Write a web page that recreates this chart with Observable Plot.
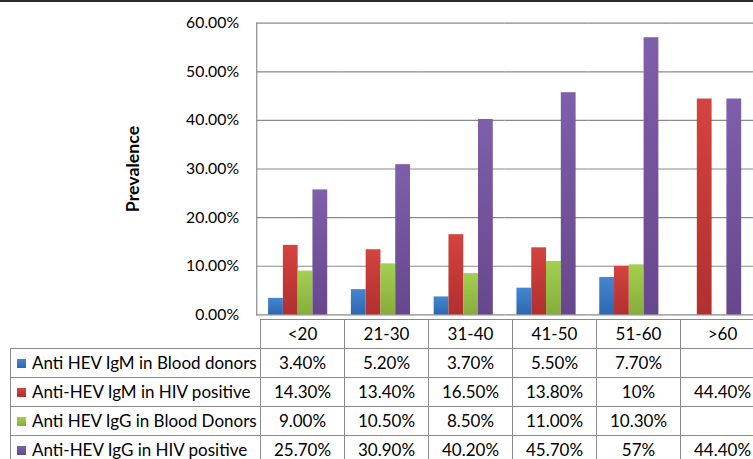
<!DOCTYPE html>
<html><head><meta charset="utf-8">
<script src="https://cdn.jsdelivr.net/npm/d3@7"></script>
<script src="https://cdn.jsdelivr.net/npm/@observablehq/plot@0.6"></script>
<style>
html,body{margin:0;padding:0;background:#fff;overflow:hidden;width:753px;height:459px}
body{position:relative;font-family:Lato,sans-serif;color:#000}
#topline{position:absolute;left:0;top:0;width:753px;height:2px;background:#2b2b2b}
#chart{position:absolute;left:0;top:0}
#tbl{position:absolute;left:10px;top:319px;border-collapse:collapse;table-layout:fixed;font-size:17px;font-family:Lato,sans-serif}
#tbl td{border:1px solid #8a8a8a;height:28px;padding:0;text-align:center;white-space:nowrap;overflow:hidden;line-height:28px}
#tbl td.lab{text-align:left;padding-left:6px}
#tbl td.blank{border-top:none;border-left:none}
.key{display:inline-block;width:9px;height:9px;margin-right:6px;vertical-align:middle;position:relative;top:-1px}
</style></head><body>
<div id="chart"></div>
<table id="tbl"></table>
<div id="topline"></div>
<script>
const categories = ["<20", "21-30", "31-40", "41-50", "51-60", ">60"];
const series = [
  "Anti HEV IgM in Blood donors",
  "Anti-HEV IgM in HIV positive",
  "Anti HEV IgG in Blood Donors",
  "Anti-HEV IgG in HIV positive"
];
const igmDonors = [3.4, 5.2, 3.7, 5.5, 7.7, null];
const igmHiv    = [14.3, 13.4, 16.5, 13.8, 10, 44.4];
const iggDonors = [9.0, 10.5, 8.5, 11.0, 10.3, null];
const iggHiv    = [25.7, 30.9, 40.2, 45.7, 57, 44.4];
const igmDonorsText = ["3.40%", "5.20%", "3.70%", "5.50%", "7.70%", ""];
const igmHivText    = ["14.30%", "13.40%", "16.50%", "13.80%", "10%", "44.40%"];
const iggDonorsText = ["9.00%", "10.50%", "8.50%", "11.00%", "10.30%", ""];
const iggHivText    = ["25.70%", "30.90%", "40.20%", "45.70%", "57%", "44.40%"];
const yTicks = [0, 10, 20, 30, 40, 50, 60];
const yLabel = "Prevalence";

const values = [igmDonors, igmHiv, iggDonors, iggHiv];
const texts = [igmDonorsText, igmHivText, iggDonorsText, iggHivText];
const gradColors = [["#4586d2", "#2d68b0"], ["#d4433f", "#b1302e"], ["#a3d050", "#86ad3a"], ["#7f5eab", "#67478c"]];

const rows = [];
series.forEach((s, i) => categories.forEach((c, j) => {
  const v = values[i][j];
  if (v != null) rows.push({series: s, cat: c, value: v});
}));

const chart = Plot.plot({
  width: 764, height: 320,
  marginLeft: 260, marginRight: 0, marginTop: 23, marginBottom: 1,
  style: {fontFamily: "Lato, sans-serif", fontSize: "16px", background: "transparent", overflow: "visible", color: "#000"},
  fx: {domain: categories, padding: 0, axis: null},
  x: {domain: series, paddingInner: 0, paddingOuter: 0.75, axis: null},
  y: {domain: [0, 60], axis: null},
  color: {domain: series, range: series.map((s, i) => `url(#grad${i})`)},
  marks: [
    Plot.gridY(yTicks, {stroke: "#8a8a8a", strokeOpacity: 1, strokeWidth: 1.2}),
    Plot.frame({anchor: "left", facetAnchor: "left", stroke: "#8a8a8a", strokeWidth: 1.2}),
    Plot.barY(rows, {fx: "cat", x: "series", y: "value", fill: "series"}),
    Plot.axisY({ticks: yTicks, tickFormat: d => d.toFixed(2) + "%", tickSize: 0, tickPadding: 18,
      fontSize: 16, label: yLabel, labelAnchor: "center", labelOffset: 132, labelArrow: "none"})
  ]
});

const svg = d3.select(chart);
const defs = svg.insert("defs", ":first-child");
gradColors.forEach(([top, bottom], i) => {
  const g = defs.append("linearGradient").attr("id", "grad" + i)
    .attr("x1", 0).attr("y1", 0).attr("x2", 0).attr("y2", 1);
  g.append("stop").attr("offset", "0%").attr("stop-color", top);
  g.append("stop").attr("offset", "100%").attr("stop-color", bottom);
});
svg.selectAll('[aria-label="y-axis label"] text').attr("font-weight", "bold").attr("font-size", 18);
document.getElementById("chart").appendChild(chart);

// data table aligned to the fx scale
const fx = chart.scale("fx");
const step = fx.step || 84;
const tbl = d3.select("#tbl");
const cg = tbl.append("colgroup");
cg.append("col").style("width", "250px");
categories.forEach(() => cg.append("col").style("width", step + "px"));
tbl.style("width", (250 + step * categories.length) + "px");
const head = tbl.append("tr").style("height", "29px");
head.append("td").attr("class", "blank");
categories.forEach(c => head.append("td").text(c));
series.forEach((s, i) => {
  const tr = tbl.append("tr").style("height", "29px");
  const lab = tr.append("td").attr("class", "lab");
  lab.append("span").attr("class", "key")
    .style("background", `linear-gradient(${gradColors[i][0]}, ${gradColors[i][1]})`);
  lab.append("span").text(s);
  texts[i].forEach(t => tr.append("td").text(t));
});
</script></body></html>
